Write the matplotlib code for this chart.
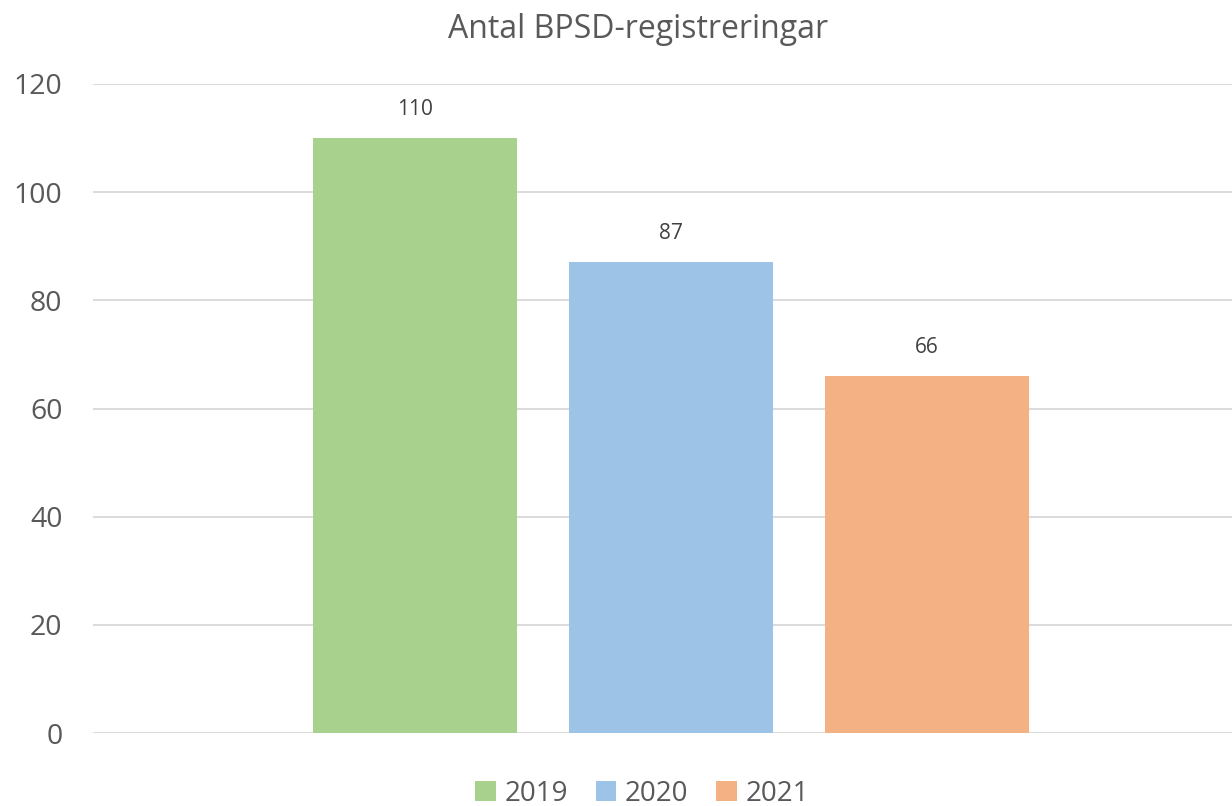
import numpy as np
import matplotlib.pyplot as plt

plt.rcParams['font.family'] = ['Open Sans', 'DejaVu Sans']

years = ['2019', '2020', '2021']
counts = [110, 87, 66]
colors = ['#A9D18E', '#9DC3E6', '#F4B183']
title = 'Antal BPSD-registreringar'
yticks = [0, 20, 40, 60, 80, 100, 120]

txt = '#595959'

fig = plt.figure(figsize=(12.32, 8.06), dpi=100)
ax = fig.add_axes([93/1232, 1 - 733/806, 1 - 93/1232, (733 - 84)/806])

# one category, three series side by side (Excel clustered column)
width = 204 / 1139
step = 256 / 1139
offsets = (np.arange(len(years)) - 1) * step
for off, val, col, lab in zip(offsets, counts, colors, years):
    b = ax.bar(off, val, width=width, color=col, label=lab, zorder=3)
    ax.bar_label(b, padding=13, fontsize=15, color='#404040')

shift = (671 - 93) / 1139 - 0.5
ax.set_xlim(-0.5 - shift, 0.5 - shift)
ax.set_ylim(0, 120)
ax.set_yticks(yticks)
ax.yaxis.grid(True, color='#D9D9D9', linewidth=1.3, zorder=0)
ax.set_xticks([])
for s in ax.spines.values():
    s.set_visible(False)
ax.tick_params(axis='y', length=0, labelsize=20.5, labelcolor=txt, pad=22)

fig.text(0.518, 0.963, title, ha='center', va='center', fontsize=23, color=txt)

leg = fig.legend(loc='center', bbox_to_anchor=(0.521, 0.015), ncol=3, frameon=False,
                 fontsize=20, labelcolor=txt, handlelength=0.75, handleheight=0.75,
                 handletextpad=0.3, columnspacing=1.0)

fig.savefig('out.png', dpi=100)
